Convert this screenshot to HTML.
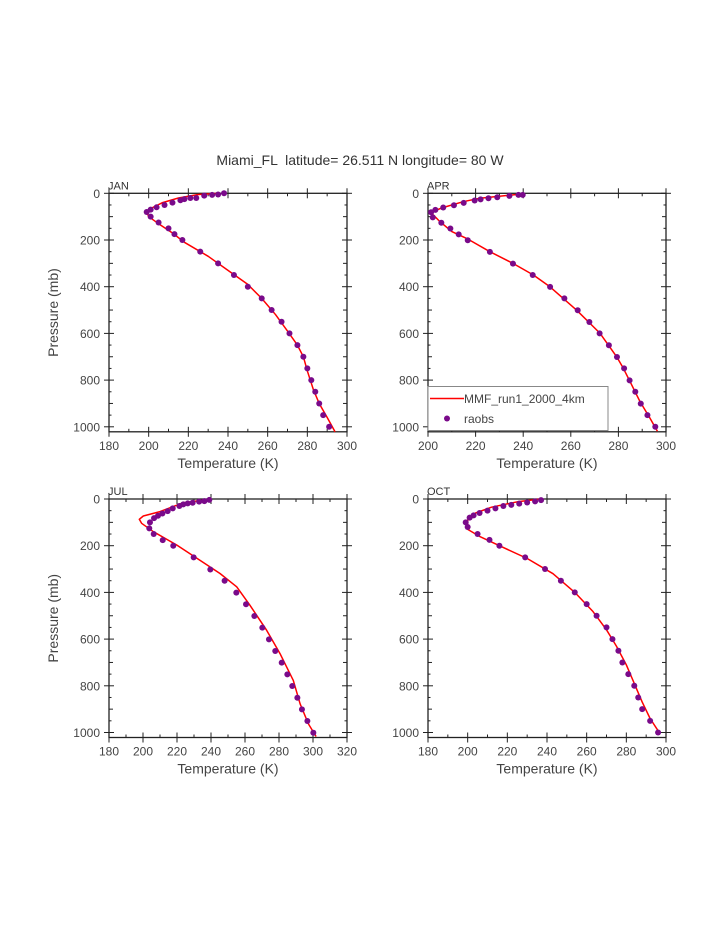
<!DOCTYPE html>
<html><head><meta charset="utf-8"><style>
body{margin:0;background:#fff;}
svg{display:block;font-family:"Liberation Sans",sans-serif;}
</style></head><body>
<svg id="fig" width="723" height="935">
<text x="360" y="165" text-anchor="middle" font-size="14" fill="#333" xml:space="preserve">Miami_FL  latitude= 26.511 N longitude= 80 W</text>
</svg>
<script>
const janObsT=[238,235,232,228,224,221,218,216,212,208,204,201,199,201,205,210,213,217,226,235,243,250,257,262,267,271,275,278,280,282,284,286,288,291];
const janObsP=[0,5,7,10,20,20,25,30,40,50,60,70,80,100,125,150,175,200,250,300,350,400,450,500,550,600,650,700,750,800,850,900,950,1000];
const janModT=[236,225,215,207,201,199,200,205,212,218,230,240,250,257,264,270,275,278,280,283,286,290,294];
const janModP=[0,5,20,40,65,80,100,130,170,210,270,330,390,450,520,590,650,700,760,840,900,960,1022];
const aprObsT=[239.8,238,234.2,229.1,225.4,222.1,219.6,215,210.9,206.4,203.1,201.3,202,205.6,209.4,212.9,216.7,226,235.7,244,251.3,257.3,262.9,267.8,272.1,276,279.4,282.4,284.7,287.1,289.4,292.2,295.5];
const aprObsP=[7,7,11,17,21,26,31,41,51,61,71,81,103,126,151,176,201,251,301,350,401,450,501,551,600,651,701,750,801,850,901,950,1000];
const aprModT=[239.4,221.8,214.8,206.4,201.1,205,210,216.2,226,235.9,244.3,251.3,262.5,272.3,279.3,282.1,284.9,289.1,293.3,296.4];
const aprModP=[3,21,36,61,81,121,164,193,250,301,350,401,501,600,700,750,807,893,964,1019];
const julObsT=[239,236.1,233,229.2,226.3,223.7,221.4,217.5,214.5,211.4,208.8,206.5,204.1,203.7,206.3,211.6,217.8,229.8,239.6,248,254.9,260.6,265.5,270.2,274.1,277.8,281.6,284.9,287.8,290.8,293.5,296.7,300.2];
const julObsP=[4,9,11,16,19,23,30,40,52,62,72,82,100,126,150,176,200,250,302,350,401,451,501,551,601,651,701,751,801,851,901,951,1001];
const julModT=[239.4,223.7,210,200.2,197.8,199.2,206.1,219.8,233.5,245.3,255.1,262.9,272.7,280.6,288.4,292.4,297.3,301.8];
const julModP=[1,16,54,73,87,104,140,197,262,319,376,455,562,662,777,877,963,1017];
const octObsT=[237,234,230,226,222,218,214,210,206,203,201,199,200,205,211,216,229,239,247,254,260,265,270,273,276,278,281,284,286,288,292,296];
const octObsP=[5,10,15,20,25,30,40,50,60,70,80,100,120,150,175,200,250,300,350,400,450,500,550,600,650,700,750,800,850,900,950,1000];
const octModT=[237,225,212,204,200,200,206,216,230,243,254,263,270,275,280,284,288,292,297];
const octModP=[0,12,35,60,90,130,160,200,255,320,400,480,560,630,710,790,870,940,1005];
const xTicksA=[180,200,220,240,260,280,300];
const xTicksB=[200,220,240,260,280,300];
const xTicksC=[180,200,220,240,260,280,300,320];
const yTicks=[0,200,400,600,800,1000];

const NS="http://www.w3.org/2000/svg";
const svg=document.getElementById('fig');
function mk(tag,attrs,parent){const e=document.createElementNS(NS,tag);for(const k in attrs)e.setAttribute(k,attrs[k]);(parent||svg).appendChild(e);return e;}

function panel(cfg){
  const L=cfg.left,R=cfg.left+238,T=cfg.top,p1000=cfg.top+233.5,B=cfg.top+238.5;
  const x=t=>L+(t-cfg.xmin)/(cfg.xmax-cfg.xmin)*(R-L);
  const y=p=>T+p/1000*(p1000-T);
  const g=mk('g',{});
  
  
  const fr=mk('rect',{x:L,y:T,width:R-L,height:B-T,fill:'none',stroke:'#222','stroke-width':1.3},g);
  
  
  for(let t=cfg.xmin;t<=cfg.xmax;t+=10){
    const major=(t%20===0);const xx=x(t);const len=major?5:3;
    mk('line',{x1:xx,x2:xx,y1:B-len,y2:B+(major?5:0),stroke:'#222'},g);
    mk('line',{x1:xx,x2:xx,y1:T+len,y2:T-(major?5:0),stroke:'#222'},g);
  }
  cfg.xt.forEach(t=>{const tx=mk('text',{x:x(t),y:B+18,'text-anchor':'middle','font-size':12,fill:'#444'},g);tx.textContent=t;
    
    });
  for(let p=0;p<=1000;p+=50){
    const major=(p%200===0);const yy=y(p);const len=major?5:(p%100===0?4:2.5);
    mk('line',{x1:L-(major?5:0),x2:L+len,y1:yy,y2:yy,stroke:'#222'},g);
    mk('line',{x1:R+(major?5:0),x2:R-len,y1:yy,y2:yy,stroke:'#222'},g);
  }
  yTicks.forEach(p=>{const tx=mk('text',{x:L-9,y:y(p)+4.5,'text-anchor':'end','font-size':12,fill:'#444'},g);tx.textContent=p;
    
    });
  const lab=mk('text',{x:L-1,y:T-4,'font-size':11,fill:'#333'},g);lab.textContent=cfg.label;
  
  
  const xl=mk('text',{x:(L+R)/2,y:B+36,'text-anchor':'middle','font-size':14,fill:'#444'},g);xl.textContent='Temperature (K)';
  
  
  if(cfg.ylab){const yl=mk('text',{x:0,y:0,'text-anchor':'middle','font-size':14,fill:'#444',transform:`translate(58,${(T+B)/2}) rotate(-90)`},g);yl.textContent='Pressure (mb)';
    
    }
  const pts=cfg.mT.map((t,i)=>x(t).toFixed(1)+','+y(cfg.mP[i]).toFixed(1)).join(' ');
  const ln=mk('polyline',{points:pts,fill:'none',stroke:'#f00','stroke-width':1.5,'stroke-linejoin':'round'},g);
  
  
  cfg.oT.forEach((t,i)=>{const c=mk('circle',{cx:x(t),cy:y(cfg.oP[i]),r:3,fill:'#7a0a8a'},g);
    
    });
  return {L,R,T,B,x,y,g};
}
panel({name:'jan',label:'JAN',left:109,top:193.3,xmin:180,xmax:300,xt:xTicksA,ylab:true,oT:janObsT,oP:janObsP,mT:janModT,mP:janModP});
panel({name:'apr',label:'APR',left:428,top:193.3,xmin:200,xmax:300,xt:xTicksB,ylab:false,oT:aprObsT,oP:aprObsP,mT:aprModT,mP:aprModP});
panel({name:'jul',label:'JUL',left:109,top:499,xmin:180,xmax:320,xt:xTicksC,ylab:true,oT:julObsT,oP:julObsP,mT:julModT,mP:julModP});
panel({name:'oct',label:'OCT',left:428,top:499,xmin:180,xmax:300,xt:xTicksA,ylab:false,oT:octObsT,oP:octObsP,mT:octModT,mP:octModP});
const lg=mk('g',{});


mk('rect',{x:428,y:386.5,width:180,height:44,fill:'#fff',stroke:'#888'},lg);
mk('line',{x1:430,x2:464,y1:398.5,y2:398.5,stroke:'#f00','stroke-width':1.5},lg);
const t1=mk('text',{x:464,y:403,'font-size':12,fill:'#444'},lg);t1.textContent='MMF_run1_2000_4km';


mk('circle',{cx:447,cy:418.5,r:3,fill:'#7a0a8a'},lg);
const t2=mk('text',{x:464,y:423,'font-size':12,fill:'#444'},lg);t2.textContent='raobs';


</script>
</body></html>
